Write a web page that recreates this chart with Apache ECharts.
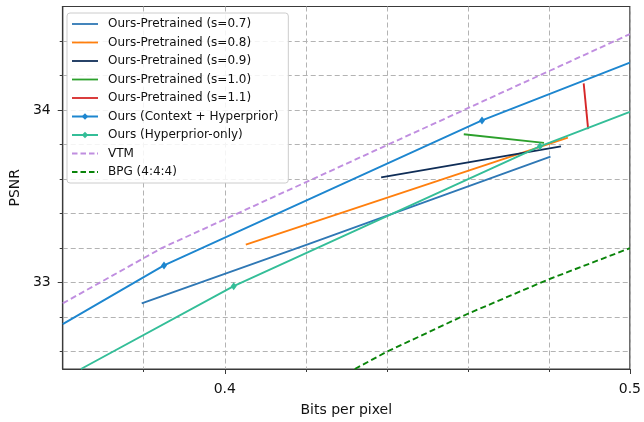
<!DOCTYPE html>
<html>
<head>
<meta charset="utf-8">
<script src="https://cdn.jsdelivr.net/npm/echarts@6/dist/echarts.min.js"></script>
<style>
html,body{margin:0;padding:0;background:#fff;}
#chart{width:644px;height:422px;}
</style>
</head>
<body>
<div id="chart"></div>
<script>
// ---- data ----
const xMin = 0.36, xMax = 0.5, yMin = 32.5, yMax = 34.6;
const xMajorTicks = [0.4, 0.5];
const xAllTicks = [0.38, 0.4, 0.42, 0.44, 0.46, 0.48, 0.5];
const yMajorTicks = [33, 34];
const yAllTicks = [32.6, 32.8, 33, 33.2, 33.4, 33.6, 33.8, 34, 34.2, 34.4];

const pre07 = [[0.3795, 32.88], [0.4203, 33.22], [0.4804, 33.73]];
const pre08 = [[0.4052, 33.22], [0.4847, 33.84]];
const pre09 = [[0.4386, 33.61], [0.4830, 33.79]];
const pre10 = [[0.4590, 33.86], [0.4788, 33.81]];
const pre11 = [[0.4886, 34.155], [0.4897, 33.89]];
const oursContext = [[0.36, 32.76], [0.385, 33.10], [0.4635, 33.94], [0.5, 34.275]];
const oursHyper = [[0.3645, 32.5], [0.4022, 32.98], [0.4778, 33.79], [0.5, 33.99]];
const vtm = [[0.36, 32.88], [0.3844, 33.20], [0.5, 34.44]];
const bpg = [[0.4321, 32.5], [0.44, 32.60], [0.46, 32.82], [0.48, 33.02], [0.5, 33.20]];

const FONT = 'DejaVu Sans';
const gridColor = '#b3b3b3';
const spine = '#3a3a3a';
const SOLID_ICON = 'path://M0,0H26V1.8H0Z';
const DASH_ICON = 'path://M0,0h5.5v1.8h-5.5zM8.5,0h5.5v1.8h-5.5zM17,0h5.5v1.8h-5.5zM25,0h1v1.8h-1z';

function plain(name, data, color, type) {
  return {
    name, type: 'line', data, color,
    symbol: 'none', showSymbol: false,
    itemStyle: { color },
    lineStyle: { width: 1.9, color, type: type || 'solid' },
    animation: false, clip: true
  };
}
function marked(name, data, color) {
  const items = data.map(p => {
    const edge = p[0] <= xMin || p[0] >= xMax || p[1] <= yMin || p[1] >= yMax;
    return edge ? { value: p, symbol: 'none' } : { value: p };
  });
  return {
    name, type: 'line', data: items, color,
    symbol: 'diamond', symbolSize: [6, 8], showSymbol: true,
    itemStyle: { color },
    lineStyle: { width: 1.9, color },
    animation: false, clip: true
  };
}

const chart = echarts.init(document.getElementById('chart'), null, { renderer: 'canvas' });
const option = {
  backgroundColor: '#fff',
  animation: false,
  textStyle: { fontFamily: FONT },
  grid: { left: 60.5, right: 11.5, top: 6.5, bottom: 50.5, show: true, borderColor: spine, borderWidth: 1.2, containLabel: false },
  legend: {
    orient: 'vertical', left: 67, top: 13,
    padding: [5, 10, 5, 4],
    itemWidth: 26, itemHeight: 8, itemGap: 6.5,
    backgroundColor: 'rgba(255,255,255,0.85)', borderColor: '#cccccc', borderWidth: 1, borderRadius: 3,
    textStyle: { fontFamily: FONT, fontSize: 12, color: '#111', padding: [0, 0, 0, 5] },
    data: [
      { name: 'Ours-Pretrained (s=0.7)', icon: SOLID_ICON },
      { name: 'Ours-Pretrained (s=0.8)', icon: SOLID_ICON },
      { name: 'Ours-Pretrained (s=0.9)', icon: SOLID_ICON },
      { name: 'Ours-Pretrained (s=1.0)', icon: SOLID_ICON },
      { name: 'Ours-Pretrained (s=1.1)', icon: SOLID_ICON },
      { name: 'Ours (Context + Hyperprior)' },
      { name: 'Ours (Hyperprior-only)' },
      { name: 'VTM', icon: DASH_ICON },
      { name: 'BPG (4:4:4)', icon: DASH_ICON }
    ]
  },
  xAxis: [{
    type: 'value', min: xMin, max: xMax,
    name: 'Bits per pixel', nameLocation: 'middle', nameGap: 34,
    nameTextStyle: { fontFamily: FONT, fontSize: 14, color: '#111' },
    axisLine: { show: true, onZero: false, lineStyle: { color: spine, width: 1.2 } },
    axisTick: { show: true, customValues: xAllTicks, length: 3, lineStyle: { color: spine } },
    axisLabel: { customValues: xMajorTicks, formatter: v => v.toFixed(1), fontFamily: FONT, fontSize: 14, color: '#111', margin: 13 },
    splitLine: { show: true, lineStyle: { color: gridColor, type: [5, 3], width: 1 } }
  }, {
    type: 'value', min: xMin, max: xMax, position: 'bottom',
    axisLine: { show: false },
    axisTick: { show: true, customValues: xMajorTicks, length: 5, lineStyle: { color: spine } },
    axisLabel: { show: false }, splitLine: { show: false }
  }],
  yAxis: [{
    type: 'value', min: yMin, max: yMax,
    name: 'PSNR', nameLocation: 'middle', nameGap: 40, nameRotate: 90,
    nameTextStyle: { fontFamily: FONT, fontSize: 14, color: '#111' },
    axisLine: { show: true, onZero: false, lineStyle: { color: spine, width: 1.2 } },
    axisTick: { show: true, customValues: yAllTicks, length: 3, lineStyle: { color: spine } },
    axisLabel: { customValues: yMajorTicks, formatter: v => String(Math.round(v)), fontFamily: FONT, fontSize: 14, color: '#111', margin: 12 },
    splitLine: { show: true, lineStyle: { color: gridColor, type: [5, 3], width: 1 } }
  }, {
    type: 'value', min: yMin, max: yMax, position: 'left',
    axisLine: { show: false },
    axisTick: { show: true, customValues: yMajorTicks, length: 5, lineStyle: { color: spine } },
    axisLabel: { show: false }, splitLine: { show: false }
  }],
  series: [
    plain('Ours-Pretrained (s=0.7)', pre07, '#2f78b5'),
    plain('Ours-Pretrained (s=0.8)', pre08, '#ff7f0e'),
    plain('Ours-Pretrained (s=0.9)', pre09, '#0f2d57'),
    plain('Ours-Pretrained (s=1.0)', pre10, '#2ca02c'),
    plain('Ours-Pretrained (s=1.1)', pre11, '#d62728'),
    marked('Ours (Context + Hyperprior)', oursContext, '#1d86cf'),
    marked('Ours (Hyperprior-only)', oursHyper, '#34be98'),
    plain('VTM', vtm, '#c08ee0', [6, 3.3]),
    plain('BPG (4:4:4)', bpg, '#0a840a', [6, 3.3])
  ]
};
chart.setOption(option);
</script>
</body>
</html>
